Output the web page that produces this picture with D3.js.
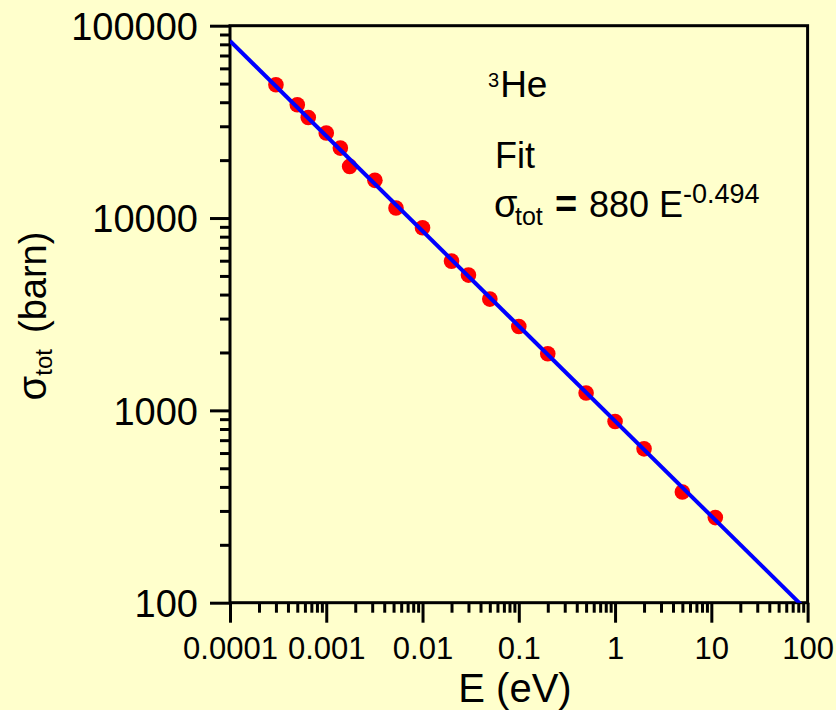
<!DOCTYPE html>
<html>
<head>
<meta charset="utf-8">
<script src="https://cdn.jsdelivr.net/npm/d3@7"></script>
<style>
  html, body { margin: 0; padding: 0; background: #FFFFCC; }
  svg { display: block; }
  text { font-family: "Liberation Sans", Arial, sans-serif; fill: #000; }
</style>
</head>
<body>
<div id="chart"></div>
<script>
// ---- Data ----
const energy = [0.0003, 0.0005, 0.00065, 0.001, 0.0014, 0.00175, 0.0032, 0.0053, 0.01, 0.02, 0.03, 0.05, 0.1, 0.2, 0.5, 1, 2, 5, 11];
const sigma  = [49300, 38800, 33300, 27700, 23100, 18550, 15700, 11280, 8900, 5970, 5050, 3790, 2730, 1970, 1230, 875, 631, 376, 277];
const fitA = 880;
const fitB = -0.494;
const fitE = [0.0001, 100];
const xTickValues = [0.0001, 0.001, 0.01, 0.1, 1, 10, 100];
const xTickLabels = ["0.0001", "0.001", "0.01", "0.1", "1", "10", "100"];
const yTickValues = [100, 1000, 10000, 100000];
const yTickLabels = ["100", "1000", "10000", "100000"];

const W = 836, H = 710;
const mLeft = 230, mRight = 807.6, mTop = 25.7, mBottom = 602.7;

const svg = d3.select("#chart").append("svg").attr("width", W).attr("height", H);
svg.append("rect").attr("width", W).attr("height", H).attr("fill", "#FFFFCC");

const x = d3.scaleLog().domain([0.0001, 100]).range([mLeft, mRight]);
const y = d3.scaleLog().domain([100, 100000]).range([mBottom, mTop]);

function minorTicks(lo, hi) {
  const out = [];
  for (let e = Math.round(Math.log10(lo)); e < Math.round(Math.log10(hi)); e++) {
    for (let k = 2; k <= 9; k++) out.push(k * Math.pow(10, e));
  }
  return out;
}

const axisStroke = 3;

// X axis
const xAxisMajor = d3.axisBottom(x).tickValues(xTickValues).tickSize(20)
  .tickFormat((d, i) => xTickLabels[i]);
const gx = svg.append("g").attr("transform", `translate(0,${mBottom})`).call(xAxisMajor);
gx.select(".domain").remove();
gx.selectAll(".tick line").attr("stroke", "#000").attr("stroke-width", axisStroke);
gx.selectAll(".tick text").attr("font-size", 31).attr("y", 56).attr("dy", 0)
  .attr("fill", "#000").attr("font-family", "'Liberation Sans', Arial, sans-serif");

const xAxisMinor = d3.axisBottom(x).tickValues(minorTicks(0.0001, 100)).tickSize(10).tickFormat("");
const gxm = svg.append("g").attr("transform", `translate(0,${mBottom})`).call(xAxisMinor);
gxm.select(".domain").remove();
gxm.selectAll(".tick line").attr("stroke", "#000").attr("stroke-width", axisStroke);

// Y axis
const yAxisMajor = d3.axisLeft(y).tickValues(yTickValues).tickSize(20)
  .tickFormat((d, i) => yTickLabels[i]);
const gy = svg.append("g").attr("transform", `translate(${mLeft},0)`).call(yAxisMajor);
gy.select(".domain").remove();
gy.selectAll(".tick line").attr("stroke", "#000").attr("stroke-width", axisStroke);
gy.selectAll(".tick text").attr("font-size", 38).attr("x", -32).attr("dy", "0.36em")
  .attr("fill", "#000").attr("font-family", "'Liberation Sans', Arial, sans-serif");

const yAxisMinor = d3.axisLeft(y).tickValues(minorTicks(100, 100000)).tickSize(10).tickFormat("");
const gym = svg.append("g").attr("transform", `translate(${mLeft},0)`).call(yAxisMinor);
gym.select(".domain").remove();
gym.selectAll(".tick line").attr("stroke", "#000").attr("stroke-width", axisStroke);

// Frame
svg.append("rect").attr("x", mLeft).attr("y", mTop)
  .attr("width", mRight - mLeft).attr("height", mBottom - mTop)
  .attr("fill", "none").attr("stroke", "#000").attr("stroke-width", axisStroke);

// Clip
svg.append("clipPath").attr("id", "plotclip").append("rect")
  .attr("x", mLeft).attr("y", mTop).attr("width", mRight - mLeft).attr("height", mBottom - mTop);

// Data points
svg.append("g").selectAll("circle").data(energy).join("circle")
  .attr("cx", d => x(d)).attr("cy", (d, i) => y(sigma[i]))
  .attr("r", 7.8).attr("fill", "#FF0000");

// Fit line
const line = d3.line().x(d => x(d)).y(d => y(fitA * Math.pow(d, fitB)));
svg.append("path").datum(fitE).attr("d", line)
  .attr("clip-path", "url(#plotclip)")
  .attr("fill", "none").attr("stroke", "#0000FF").attr("stroke-width", 4);

// Axis titles
svg.append("text").attr("x", 515).attr("y", 702).attr("text-anchor", "middle")
  .attr("font-size", 40).text("E (eV)");

const yt = svg.append("text").attr("transform", "translate(46,316) rotate(-90)")
  .attr("text-anchor", "middle").attr("font-size", 38);
yt.append("tspan").attr("font-size", 40).text("σ");
yt.append("tspan").attr("font-size", 24).attr("dy", 6).text("tot");
yt.append("tspan").attr("dy", -6).attr("dx", 16).text("(barn)");

// Annotations
const he = svg.append("text").attr("x", 488).attr("y", 96.7).attr("font-size", 37);
he.append("tspan").attr("font-size", 20).attr("dy", -10).text("3");
he.append("tspan").attr("dy", 10).attr("dx", 1).text("He");

svg.append("text").attr("x", 495).attr("y", 168).attr("font-size", 36).text("Fit");

const eq = svg.append("text").attr("y", 216.7).attr("font-size", 36);
eq.append("tspan").attr("x", 494).attr("font-size", 38).text("σ");
eq.append("tspan").attr("x", 515).attr("dy", 8).attr("font-size", 25).text("tot");
eq.append("tspan").attr("x", 555).attr("dy", -8).attr("font-size", 38).attr("font-weight", "bold").text("=");
eq.append("tspan").attr("x", 589).attr("font-weight", "normal").text("880");
eq.append("tspan").attr("x", 659).text("E");
eq.append("tspan").attr("x", 683).attr("dy", -14).attr("font-size", 27).text("-0.494");
</script>
</body>
</html>
